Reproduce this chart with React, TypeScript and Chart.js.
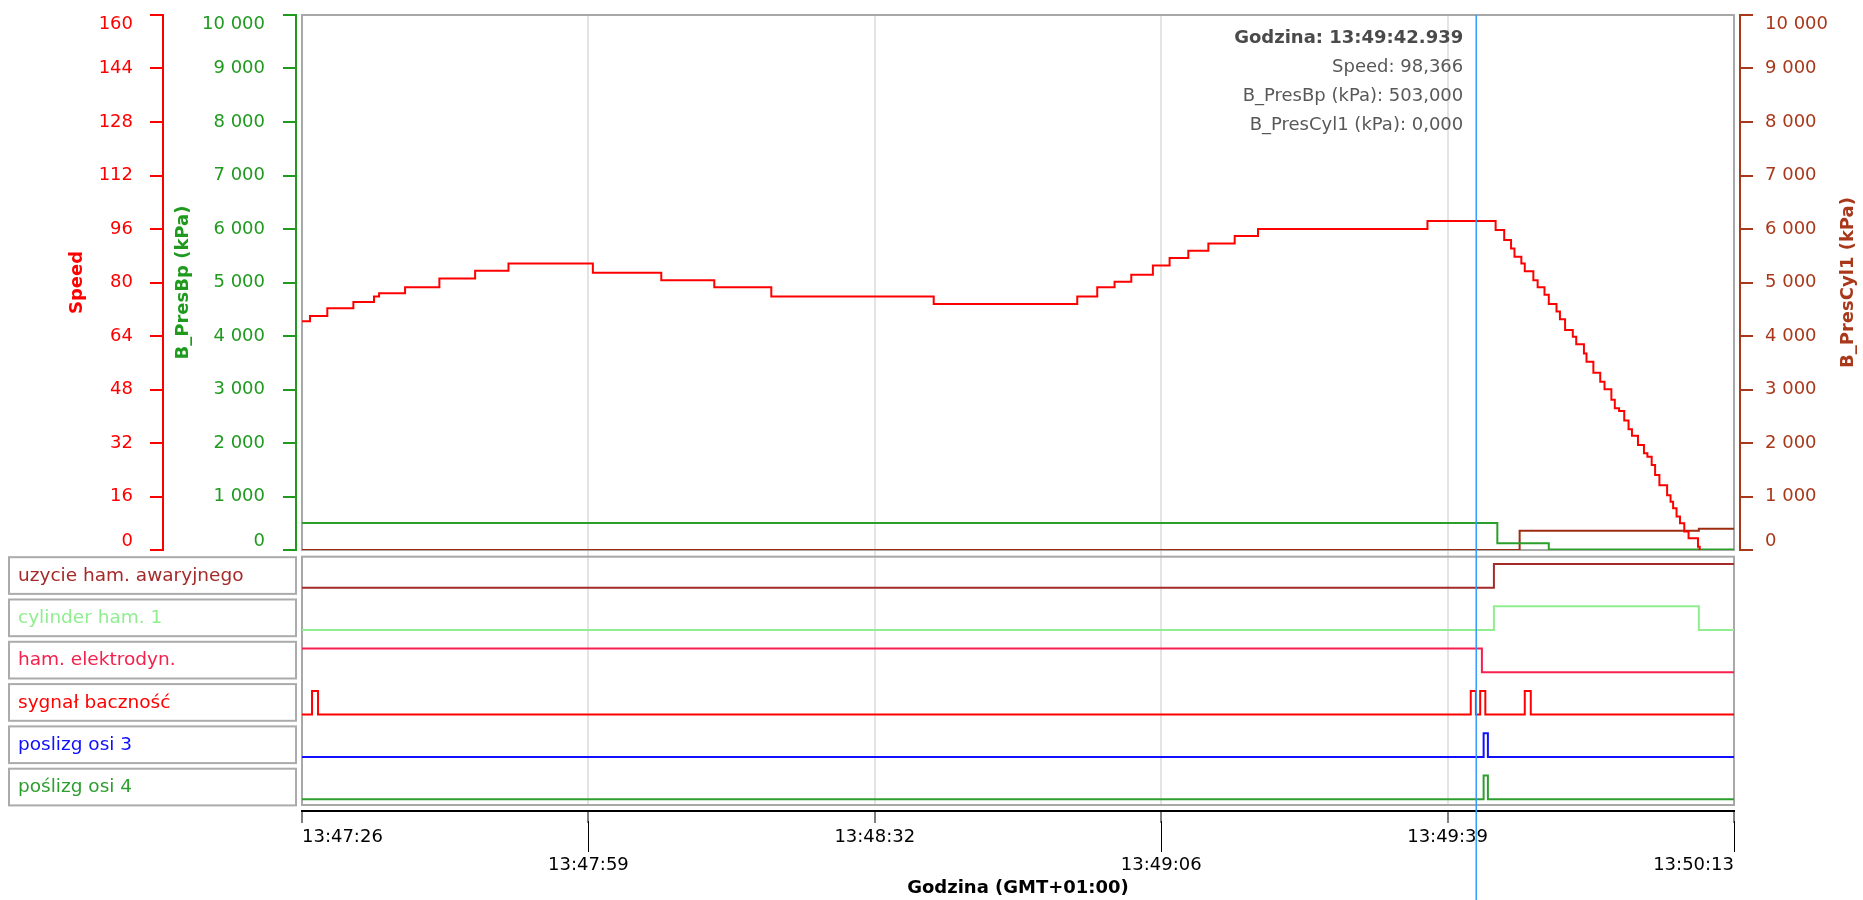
import React, { useEffect, useRef } from 'react';
import { Chart, registerables } from 'chart.js';

Chart.register(...registerables);

const FONT = '"DejaVu Sans", "Noto Sans", sans-serif';

// ---------- time axis (seconds after 13:47:26) ----------
const START_CLOCK = 13 * 3600 + 47 * 60 + 26;
const X_TICKS = [0, 33.4, 66.8, 100.2, 133.6, 167];
const X_MAX = 167;
const CURSOR_T = 136.939;

// ---------- value axes ----------
const SPEED_MAX = 160;
const SPEED_STEP = 16;
const KPA_MAX = 10000;
const KPA_STEP = 1000;

// ---------- Speed ----------
const speedTimes = [
  0, 0.93, 2.95, 5.99, 8.4, 8.99, 12.02, 16.02, 20.19, 24.08,
  33.92, 41.9, 48.08, 54.73, 73.67, 90.41, 92.74, 94.76, 96.71, 99.23,
  101.18, 103.36, 105.7, 108.77, 111.49, 131.25, 139.2, 140.2, 141.0, 141.4,
  142.2, 142.6, 143.6, 144.1, 144.9, 145.4, 146.3, 146.7, 147.3, 148.2,
  148.6, 149.5, 149.8, 150.6, 151.4, 151.9, 152.7, 153.1, 153.6, 154.2,
  154.7, 155.1, 155.8, 156.5, 156.9, 157.4, 157.8, 158.3, 159.2, 159.6,
  159.9, 160.3, 160.7, 161.2, 161.7, 162.8, 163.0,
];
const speedValues = [
  68.4, 70.0, 72.3, 74.2, 75.8, 76.8, 78.6, 81.2, 83.5, 85.7,
  82.9, 80.7, 78.6, 75.8, 73.6, 75.8, 78.6, 80.2, 82.3, 85.1,
  87.3, 89.5, 91.7, 93.9, 96.0, 98.366, 95.7, 92.7, 90.2, 87.7,
  85.7, 83.4, 80.7, 78.6, 76.3, 73.6, 71.3, 69.0, 65.8, 63.8,
  61.5, 58.8, 56.3, 53.0, 50.3, 48.1, 44.9, 42.4, 41.6, 38.7,
  36.1, 34.2, 31.4, 28.9, 27.9, 25.4, 22.4, 19.4, 16.4, 14.4,
  12.5, 10.0, 8.0, 5.5, 3.5, 1.0, 0,
];

// ---------- B_PresBp (kPa) ----------
const bpTimes = [0, 139.4, 145.4, 167];
const bpValues = [503, 125, 10, 10];

// ---------- B_PresCyl1 (kPa) ----------
const cylTimes = [0, 142.0, 162.9, 167];
const cylValues = [0, 360, 395, 395];

// ---------- digital signals ----------
const signalNames = [
  'uzycie ham. awaryjnego',
  'cylinder ham. 1',
  'ham. elektrodyn.',
  'sygnał baczność',
  'poslizg osi 3',
  'poślizg osi 4',
];
const signalColors = ['#a52a2a', '#90ee90', '#f5204e', '#ff0000', '#1010ff', '#2e9e2e'];
const awaryjnyTimes = [0, 139.0, 167];
const awaryjnyStates = [0, 1, 1];
const cylinderTimes = [0, 139.0, 162.9, 167];
const cylinderStates = [0, 1, 0, 0];
const elektroTimes = [0, 137.6, 167];
const elektroStates = [1, 0, 0];
const bacznoscTimes = [0, 1.17, 1.87, 136.3, 136.9, 137.4, 138.0, 142.6, 143.3, 167];
const bacznoscStates = [0, 1, 0, 1, 0, 1, 0, 1, 0, 0];
const poslizg3Times = [0, 137.8, 138.3, 167];
const poslizg3States = [0, 1, 0, 0];
const poslizg4Times = [0, 137.8, 138.3, 167];
const poslizg4States = [0, 1, 0, 0];

const signalTimes = [awaryjnyTimes, cylinderTimes, elektroTimes, bacznoscTimes, poslizg3Times, poslizg4Times];
const signalStates = [awaryjnyStates, cylinderStates, elektroStates, bacznoscStates, poslizg3States, poslizg4States];

// ---------- styling / layout ----------
const SPEED_COLOR = '#ff0000';
const BP_COLOR = '#1f9a1f';
const BP_LINE = '#2aa02a';
const CYL_COLOR = '#a9381a';
const CYL_LINE = '#9e2c10';
const FRAME = '#a8a8a8';
const GRID = '#e4e4e4';
const CURSOR = '#3399ff';

const ROWS = 6;
const SIG_MIN = 0.13;
const SIG_MAX = 6.158;
const LOW = 0.267;
const HIGH = 0.827;

const pts = (t: number[], v: number[]) => t.map((x, i) => ({ x, y: v[i] }));
const pad2 = (n: number) => String(n).padStart(2, '0');
function clock(sec: number, withMs = false) {
  const total = START_CLOCK + sec + 1e-6;
  const h = Math.floor(total / 3600);
  const m = Math.floor((total % 3600) / 60);
  const s = Math.floor(total % 60);
  let str = `${h}:${pad2(m)}:${pad2(s)}`;
  if (withMs) str += '.' + String(Math.floor((total - Math.floor(total)) * 1000)).padStart(3, '0');
  return str;
}
const thousands = (v: number) => String(v).replace(/\B(?=(\d{3})+(?!\d))/g, ' ');
const dec3 = (v: number) => v.toFixed(3).replace('.', ',');
function valueAt(times: number[], vals: number[], t: number) {
  let v = vals[0];
  for (let i = 0; i < times.length; i++) if (times[i] <= t) v = vals[i];
  return v;
}

function vTitle(ctx: CanvasRenderingContext2D, text: string, x: number, y: number, color: string) {
  ctx.save();
  ctx.translate(x, y);
  ctx.rotate(-Math.PI / 2);
  ctx.font = `bold 18px ${FONT}`;
  ctx.fillStyle = color;
  ctx.textAlign = 'center';
  ctx.textBaseline = 'middle';
  ctx.fillText(text, 0, 0);
  ctx.restore();
}

const overlay = {
  id: 'overlay',
  beforeDatasetsDraw(chart: any) {
    const { ctx, chartArea: ca, scales } = chart;
    const sp = scales.speed;
    const sig = scales.sig;
    ctx.save();
    ctx.strokeStyle = FRAME;
    ctx.lineWidth = 2;
    ctx.strokeRect(ca.left, sp.top, ca.right - ca.left, sp.bottom - sp.top);
    const sTop = sig.getPixelForValue(ROWS);
    ctx.strokeRect(ca.left, sTop, ca.right - ca.left, sig.bottom - sTop);
    ctx.restore();
  },
  afterDraw(chart: any) {
    const { ctx, scales } = chart;
    const sp = scales.speed;
    const bp = scales.bp;
    const cy = scales.cyl;
    const sig = scales.sig;
    const xs = scales.x;
    ctx.save();

    // y tick labels
    const axes = [
      { s: sp, color: SPEED_COLOR, x: sp.right - 30, align: 'right', fmt: (v: number) => String(v) },
      { s: bp, color: BP_COLOR, x: bp.right - 31, align: 'right', fmt: thousands },
      { s: cy, color: CYL_COLOR, x: cy.left + 25, align: 'left', fmt: thousands },
    ];
    ctx.font = `18px ${FONT}`;
    ctx.textBaseline = 'middle';
    for (const a of axes) {
      ctx.fillStyle = a.color;
      ctx.textAlign = a.align;
      for (const t of a.s.ticks) {
        let y = a.s.getPixelForValue(t.value);
        y = Math.min(Math.max(y, a.s.top + 9), a.s.bottom - 9);
        ctx.fillText(a.fmt(t.value), a.x, y);
      }
    }

    // y titles
    const midY = (sp.top + sp.bottom) / 2;
    vTitle(ctx, 'Speed', sp.left + 77, midY, SPEED_COLOR);
    vTitle(ctx, 'B_PresBp (kPa)', bp.left + 20, midY, BP_COLOR);
    vTitle(ctx, 'B_PresCyl1 (kPa)', cy.left + 108, midY, CYL_COLOR);

    // signal label boxes
    const pitch = sig.getPixelForValue(0) - sig.getPixelForValue(1);
    const boxH = pitch - 5.6;
    ctx.font = `18.5px ${FONT}`;
    ctx.textAlign = 'left';
    ctx.textBaseline = 'middle';
    for (let i = 0; i < ROWS; i++) {
      const top = sig.getPixelForValue(ROWS - i);
      ctx.strokeStyle = '#ababab';
      ctx.lineWidth = 2;
      ctx.strokeRect(9, top + 0.5, bp.right - 9, boxH);
      ctx.fillStyle = signalColors[i];
      ctx.fillText(signalNames[i], 18, top + boxH / 2 + 1);
    }

    // long ticks for the second label row
    ctx.strokeStyle = '#000';
    ctx.lineWidth = 1;
    for (let i = 1; i < X_TICKS.length; i += 2) {
      const x = Math.round(xs.getPixelForValue(X_TICKS[i])) + 0.5;
      ctx.beginPath();
      ctx.moveTo(x, xs.top + 10);
      ctx.lineTo(x, xs.top + 41);
      ctx.stroke();
    }

    // cursor
    const cx = xs.getPixelForValue(CURSOR_T);
    ctx.strokeStyle = CURSOR;
    ctx.lineWidth = 1.5;
    ctx.beginPath();
    ctx.moveTo(cx, sp.top);
    ctx.lineTo(cx, chart.height);
    ctx.stroke();

    // cursor readout
    const lines = [
      `Godzina: ${clock(CURSOR_T, true)}`,
      `Speed: ${dec3(valueAt(speedTimes, speedValues, CURSOR_T))}`,
      `B_PresBp (kPa): ${dec3(valueAt(bpTimes, bpValues, CURSOR_T))}`,
      `B_PresCyl1 (kPa): ${dec3(valueAt(cylTimes, cylValues, CURSOR_T))}`,
    ];
    ctx.textAlign = 'right';
    ctx.textBaseline = 'middle';
    lines.forEach((l, i) => {
      ctx.font = i === 0 ? `bold 18px ${FONT}` : `18px ${FONT}`;
      ctx.fillStyle = i === 0 ? '#4a4a4a' : '#585858';
      ctx.fillText(l, cx - 13, sp.top + 23 + i * 29);
    });
    ctx.restore();
  },
};

export default function App() {
  const ref = useRef<HTMLCanvasElement>(null);
  useEffect(() => {
    const canvas = ref.current;
    if (!canvas) return;
    const line = (label: string, data: any[], color: string, yAxisID: string) => ({
      label,
      data,
      yAxisID,
      xAxisID: 'x',
      borderColor: color,
      backgroundColor: color,
      borderWidth: 2,
      pointRadius: 0,
      fill: false,
      stepped: true,
    });
    const datasets: any[] = [
      line('Speed', pts(speedTimes, speedValues), SPEED_COLOR, 'speed'),
      line('B_PresBp (kPa)', pts(bpTimes, bpValues), BP_LINE, 'bp'),
      line('B_PresCyl1 (kPa)', pts(cylTimes, cylValues), CYL_LINE, 'cyl'),
    ];
    signalNames.forEach((name, i) => {
      const base = ROWS - 1 - i;
      const levels = signalStates[i].map((s) => base + (s ? HIGH : LOW));
      datasets.push(line(name, pts(signalTimes[i], levels), signalColors[i], 'sig'));
    });

    const hiddenGrid = { display: false };
    const chart = new Chart(canvas, {
      type: 'line',
      data: { datasets },
      options: {
        animation: false,
        responsive: false,
        maintainAspectRatio: false,
        devicePixelRatio: 1,
        layout: { padding: { top: 15, left: 0, right: 0, bottom: 0 }, autoPadding: false },
        plugins: { legend: { display: false }, tooltip: { enabled: false } },
        font: { family: FONT, size: 18 },
        scales: {
          x: {
            type: 'linear',
            position: 'bottom',
            weight: 1,
            min: 0,
            max: X_MAX,
            afterBuildTicks: (s: any) => {
              s.ticks = X_TICKS.map((v) => ({ value: v }));
            },
            afterFit: (s: any) => {
              s.height = 89;
            },
            grid: {
              display: true,
              drawOnChartArea: true,
              drawTicks: true,
              tickLength: 12,
              color: (c: any) => (c.index === 0 || c.index === X_TICKS.length - 1 ? 'rgba(0,0,0,0)' : GRID),
              lineWidth: 2,
              tickColor: '#000',
              tickWidth: 1,
            },
            border: { display: true, color: '#000', width: 2 },
            ticks: {
              align: 'inner',
              autoSkip: false,
              maxRotation: 0,
              minRotation: 0,
              padding: 0,
              color: '#000',
              font: { family: FONT, size: 18, lineHeight: 1.55 },
              callback: (v: any, i: number) => (i % 2 ? ['', clock(Number(v))] : clock(Number(v))),
            },
            title: {
              display: true,
              text: 'Godzina (GMT+01:00)',
              color: '#000',
              font: { family: FONT, size: 18, weight: 'bold' },
              padding: { top: 0, bottom: 1 },
            },
          },
          xpad: {
            type: 'linear',
            position: 'bottom',
            weight: 0,
            grid: hiddenGrid,
            border: { display: false },
            ticks: { display: false },
            afterFit: (s: any) => {
              s.height = 6;
            },
          },
          speed: {
            type: 'linear',
            position: 'left',
            weight: 4,
            stack: 'a',
            stackWeight: 535,
            min: 0,
            max: SPEED_MAX,
            ticks: { display: false, stepSize: SPEED_STEP },
            grid: { display: true, drawOnChartArea: false, drawTicks: true, tickLength: 13, color: SPEED_COLOR, lineWidth: 2 },
            border: { display: true, color: SPEED_COLOR, width: 2 },
            afterFit: (s: any) => {
              s.width = 163;
            },
          },
          sig: {
            type: 'linear',
            position: 'left',
            weight: 3,
            stack: 'a',
            stackWeight: 255,
            display: false,
            min: SIG_MIN,
            max: SIG_MAX,
          },
          bp: {
            type: 'linear',
            position: 'left',
            weight: 2,
            stack: 'b',
            stackWeight: 535,
            min: 0,
            max: KPA_MAX,
            ticks: { display: false, stepSize: KPA_STEP },
            grid: { display: true, drawOnChartArea: false, drawTicks: true, tickLength: 13, color: BP_COLOR, lineWidth: 2 },
            border: { display: true, color: BP_COLOR, width: 2 },
            afterFit: (s: any) => {
              s.width = 133;
            },
          },
          bppad: {
            type: 'linear',
            position: 'left',
            weight: 1,
            stack: 'b',
            stackWeight: 255,
            display: false,
          },
          lspacer: {
            type: 'linear',
            position: 'left',
            weight: 0,
            grid: hiddenGrid,
            border: { display: false },
            ticks: { display: false },
            afterFit: (s: any) => {
              s.width = 6;
            },
          },
          rspacer: {
            type: 'linear',
            position: 'right',
            weight: 0,
            grid: hiddenGrid,
            border: { display: false },
            ticks: { display: false },
            afterFit: (s: any) => {
              s.width = 6;
            },
          },
          cyl: {
            type: 'linear',
            position: 'right',
            weight: 1,
            stack: 'r',
            stackWeight: 535,
            min: 0,
            max: KPA_MAX,
            ticks: { display: false, stepSize: KPA_STEP },
            grid: { display: true, drawOnChartArea: false, drawTicks: true, tickLength: 13, color: CYL_COLOR, lineWidth: 2 },
            border: { display: true, color: CYL_COLOR, width: 2 },
            afterFit: (s: any) => {
              s.width = 123;
            },
          },
          cylpad: {
            type: 'linear',
            position: 'right',
            weight: 2,
            stack: 'r',
            stackWeight: 255,
            display: false,
          },
        },
      } as any,
      plugins: [overlay as any],
    });
    return () => chart.destroy();
  }, []);

  return (
    <div style={{ position: 'fixed', left: 0, top: 0, width: 1863, height: 900, background: '#fff' }}>
      <canvas ref={ref} width={1863} height={900} style={{ width: 1863, height: 900, display: 'block' }} />
    </div>
  );
}
